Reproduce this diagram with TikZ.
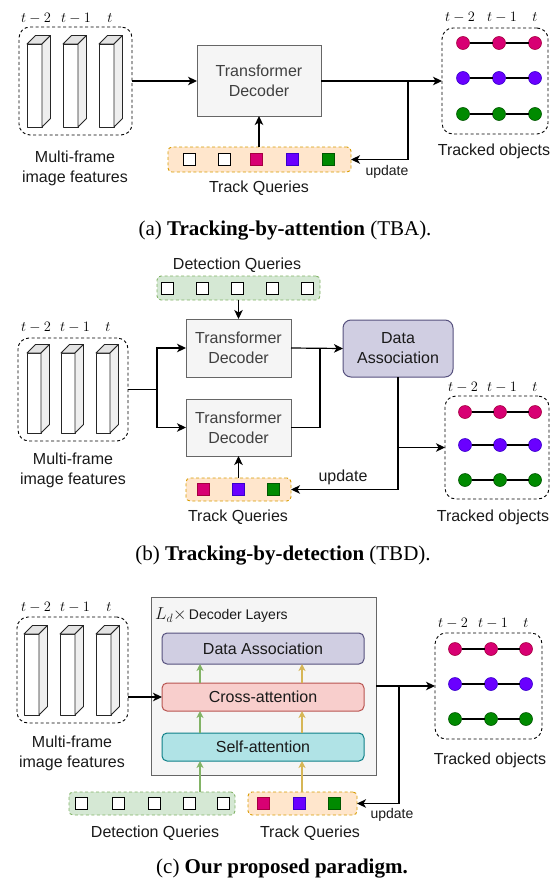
\documentclass[tikz,border=0pt]{standalone}
\usepackage{fontspec}
\setmainfont{Liberation Sans}
\newfontfamily\capfont{Liberation Serif}
\usetikzlibrary{arrows.meta}
\definecolor{magF}{HTML}{D80073}\definecolor{magD}{HTML}{A50040}
\definecolor{purF}{HTML}{6A00FF}\definecolor{purD}{HTML}{3700CC}
\definecolor{grnF}{HTML}{008A00}\definecolor{grnD}{HTML}{005700}
\definecolor{tqF}{HTML}{FFE6CC}\definecolor{tqD}{HTML}{D79B00}
\definecolor{dqF}{HTML}{D5E8D4}\definecolor{dqD}{HTML}{82B366}
\definecolor{decF}{HTML}{F5F5F5}\definecolor{decD}{HTML}{666666}
\definecolor{daF}{HTML}{D0CEE2}\definecolor{daD}{HTML}{56517E}
\definecolor{caF}{HTML}{F8CECC}\definecolor{caD}{HTML}{B85450}
\definecolor{saF}{HTML}{B0E3E6}\definecolor{saD}{HTML}{0E8088}
\definecolor{yelD}{HTML}{D6B656}
\definecolor{cubeTop}{HTML}{E3E3E3}\definecolor{cubeSide}{HTML}{EFEFEF}
\definecolor{txt}{HTML}{1A1A1A}
\newcommand\mycuboid[4]{%
  \draw[cubeline, fill=white] (#1,#2) rectangle ++(#3,#4);
  \draw[cubeline, fill=cubeTop] (#1,#2) -- ++(8.5,-8.5) -- ++(#3,0) -- ++(-8.5,8.5) -- cycle;
  \draw[cubeline, fill=cubeSide] (#1+#3,#2) -- ++(8.5,-8.5) -- ++(0,#4) -- ++(-8.5,8.5) -- cycle;}
\begin{document}
\begin{tikzpicture}[x=1pt,y=-1pt,
  every node/.style={inner sep=0pt, outer sep=0pt},
  lbl/.style={font=\fontsize{16}{20}\selectfont, align=center, text=txt},
  upd/.style={font=\fontsize{14}{16}\selectfont, text=txt},
  tl/.style={font=\fontsize{15}{16}\selectfont},
  captext/.style={font=\capfont\fontsize{21}{24}\selectfont},
  cubeline/.style={draw=black!85, line width=0.9pt, line join=round},
  dashbox/.style={draw=black, line width=0.9pt, dash pattern=on 3pt off 2.5pt, rounded corners=11pt},
  decbox/.style={draw=decD, fill=decF, line width=1pt, font=\fontsize{16}{20}\selectfont, align=center, text=black!75},
  dabox/.style={draw=daD, fill=daF, line width=1pt, rounded corners=8pt, font=\fontsize{16}{20}\selectfont, align=center, text=txt},
  tqbox/.style={draw=tqD, fill=tqF, line width=0.9pt, dash pattern=on 3pt off 2.5pt, rounded corners=4pt},
  dqbox/.style={draw=dqD, fill=dqF, line width=0.9pt, dash pattern=on 3pt off 2.5pt, rounded corners=4pt},
  sqW/.style={draw=black, fill=white, line width=0.9pt, minimum size=12pt},
  sqM/.style={draw=magD, fill=magF, line width=0.6pt, minimum size=12pt},
  sqP/.style={draw=purD, fill=purF, line width=0.6pt, minimum size=12pt},
  sqG/.style={draw=grnD, fill=grnF, line width=0.6pt, minimum size=12pt},
  dotM/.style={circle, draw=magD, fill=magF, line width=0.6pt, minimum size=13pt},
  dotP/.style={circle, draw=purD, fill=purF, line width=0.6pt, minimum size=13pt},
  dotG/.style={circle, draw=grnD, fill=grnF, line width=0.6pt, minimum size=13pt},
  trk/.style={line width=1.4pt, black},
  plainln/.style={line width=1.2pt, black},
  conn/.style={line width=1.2pt, black, -{Stealth[length=9pt,width=8.5pt,inset=2.5pt]}},
  garr/.style={line width=1.2pt, dqD, -{Stealth[length=7pt,width=7pt,inset=2pt]}},
  yarr/.style={line width=1.2pt, yelD, -{Stealth[length=7pt,width=7pt,inset=2pt]}},
]
\useasboundingbox (0,0) rectangle (550,883);

%% ================= (a) =================
\node[dashbox, minimum width=113pt, minimum height=108pt] (fa) at (75.5,81) {};
\mycuboid{27}{44}{15}{83}\mycuboid{63}{44}{15}{83}\mycuboid{99}{44}{15}{83}
\node[tl] (fat1) at (36,18) {$t-2$};
\node[tl] (fat2) at (76,18) {$t-1$};
\node[tl] (fat3) at (110,18) {$t$};
\node[lbl] (falbl) at (75,168) {Multi-frame\\image features};
\node[decbox, minimum width=124pt, minimum height=70pt] (da) at (259,81) {Transformer\\Decoder};
\node[tqbox, minimum width=183pt, minimum height=25pt] (tqa) at (259.5,159.5) {};
\node[sqW] (tqa1) at (189,159.5) {};
\node[sqW] (tqa2) at (224,159.5) {};
\node[sqM] (tqa3) at (256,159.5) {};
\node[sqP] (tqa4) at (292,159.5) {};
\node[sqG] (tqa5) at (328,159.5) {};
\node[lbl] (tqalbl) at (259,188) {Track Queries};
\node[dashbox, minimum width=106pt, minimum height=106pt] (toa) at (495,81) {};
\node[tl] (tat1) at (460,17) {$t-2$};
\node[tl] (tat2) at (502,17) {$t-1$};
\node[tl] (tat3) at (535,17) {$t$};
\node[dotM] (a11) at (463,43) {};\node[dotM] (a12) at (499,43) {};\node[dotM] (a13) at (535,43) {};
\node[dotP] (a21) at (463,78) {};\node[dotP] (a22) at (499,78) {};\node[dotP] (a23) at (535,78) {};
\node[dotG] (a31) at (463,114) {};\node[dotG] (a32) at (499,114) {};\node[dotG] (a33) at (535,114) {};
\draw[trk] (a11) -- (a12) -- (a13);
\draw[trk] (a21) -- (a22) -- (a23);
\draw[trk] (a31) -- (a32) -- (a33);
\node[lbl] (toalbl) at (494,151) {Tracked objects};
\draw[conn] (fa.east) -- (da.west);
\draw[conn] (da.south |- tqa.north) -- (da.south);
\draw[conn] (da.east) -- (toa.west);
\coordinate (ja) at (408,81);
\draw[conn] (ja) |- (tqa.east);
\node[upd] (updA) at (387,172) {update};
\node[captext] (capA) at (285,231) {(a) \textbf{Tracking-by-attention} (TBA).};

%% ================= (b) =================
\node[lbl] (dqblbl) at (237,265) {Detection Queries};
\node[dqbox, minimum width=163pt, minimum height=24pt] (dqb) at (238.5,288) {};
\node[sqW] (dqb1) at (167,288) {};
\node[sqW] (dqb2) at (202,288) {};
\node[sqW] (dqb3) at (237,288) {};
\node[sqW] (dqb4) at (272,288) {};
\node[sqW] (dqb5) at (307,288) {};
\node[decbox, minimum width=105pt, minimum height=58pt] (db1) at (238.5,348) {Transformer\\Decoder};
\node[decbox, minimum width=105pt, minimum height=57pt] (db2) at (238.5,427.5) {Transformer\\Decoder};
\node[dashbox, minimum width=110pt, minimum height=103pt] (fb) at (73,389.5) {};
\mycuboid{27}{353}{14}{80}\mycuboid{61}{353}{14}{80}\mycuboid{96}{353}{14}{80}
\node[tl] (fbt1) at (36,327) {$t-2$};
\node[tl] (fbt2) at (75,327) {$t-1$};
\node[tl] (fbt3) at (108,327) {$t$};
\node[lbl] (fblbl) at (73,470) {Multi-frame\\image features};
\node[tqbox, minimum width=105pt, minimum height=23pt] (tqb) at (238.5,489.5) {};
\node[sqM] (tqb1) at (203,489.5) {};
\node[sqP] (tqb2) at (238,489.5) {};
\node[sqG] (tqb3) at (273,489.5) {};
\node[lbl] (tqblbl) at (238,517) {Track Queries};
\node[dabox, minimum width=110pt, minimum height=57pt] (dab) at (398,348.5) {Data\\Association};
\node[dashbox, minimum width=104pt, minimum height=103pt] (tob) at (497,447.5) {};
\node[tl] (tbt1) at (463,387) {$t-2$};
\node[tl] (tbt2) at (502,387) {$t-1$};
\node[tl] (tbt3) at (535,387) {$t$};
\node[dotM] (b11) at (465,412) {};\node[dotM] (b12) at (500,412) {};\node[dotM] (b13) at (535,412) {};
\node[dotP] (b21) at (465,445) {};\node[dotP] (b22) at (500,445) {};\node[dotP] (b23) at (535,445) {};
\node[dotG] (b31) at (465,480) {};\node[dotG] (b32) at (500,480) {};\node[dotG] (b33) at (535,480) {};
\draw[trk] (b11) -- (b12) -- (b13);
\draw[trk] (b21) -- (b22) -- (b23);
\draw[trk] (b31) -- (b32) -- (b33);
\node[lbl] (toblbl) at (493,517) {Tracked objects};
\draw[conn] (dqb.south) -- (db1.north);
\coordinate (sb) at (157,389.5);
\draw[plainln] (fb.east) -- (sb);
\draw[conn] (sb) |- (db1.west);
\draw[conn] (sb) |- (db2.west);
\draw[conn] (db1.east) -- (dab.west);
\coordinate (jb) at (320,348);
\draw[plainln] (db2.east) -| (jb);
\draw[conn] (tqb.north) -- (db2.south);
\draw[conn] (dab.south) |- (tqb.east);
\draw[conn] (dab.south |- tob.west) -- (tob.west);
\node[upd, font=\fontsize{16}{18}\selectfont] (updB) at (343,477) {update};
\node[captext] (capB) at (283,556) {(b) \textbf{Tracking-by-detection} (TBD).};

%% ================= (c) =================
\node[dashbox, minimum width=111pt, minimum height=106pt] (fc) at (72.5,670) {};
\mycuboid{24}{634}{15}{81}\mycuboid{60}{634}{15}{81}\mycuboid{96}{634}{15}{81}
\node[tl] (fct1) at (36,607) {$t-2$};
\node[tl] (fct2) at (75,607) {$t-1$};
\node[tl] (fct3) at (109,607) {$t$};
\node[lbl] (fclbl) at (72,753) {Multi-frame\\image features};
\node[draw=decD, fill=decF, line width=1pt, minimum width=225pt, minimum height=178pt] (bigc) at (263.5,686) {};
\node[anchor=west, text=txt] (laylbl) at (155,615) {\fontsize{17}{17}\selectfont$L_d{\times}$\fontsize{14}{15}\selectfont\,Decoder Layers};
\node[dabox, rounded corners=5pt, minimum width=202pt, minimum height=31pt] (dac) at (263,648.5) {Data Association};
\node[dabox, draw=caD, fill=caF, rounded corners=5pt, minimum width=202pt, minimum height=28pt] (cac) at (263,697) {Cross-attention};
\node[dabox, draw=saD, fill=saF, rounded corners=5pt, minimum width=202pt, minimum height=28pt] (sac) at (263,747) {Self-attention};
\node[dqbox, minimum width=166pt, minimum height=23pt] (dqc) at (152,803.5) {};
\node[sqW] (dqc1) at (81,803.5) {};
\node[sqW] (dqc2) at (118,803.5) {};
\node[sqW] (dqc3) at (154,803.5) {};
\node[sqW] (dqc4) at (189,803.5) {};
\node[sqW] (dqc5) at (223,803.5) {};
\node[tqbox, minimum width=109pt, minimum height=23pt] (tqc) at (302.5,803.5) {};
\node[sqM] (tqc1) at (263,803.5) {};
\node[sqP] (tqc2) at (299,803.5) {};
\node[sqG] (tqc3) at (334,803.5) {};
\node[lbl] (dqclbl) at (155,833) {Detection Queries};
\node[lbl] (tqclbl) at (310,833) {Track Queries};
\node[dashbox, minimum width=107pt, minimum height=106pt] (toc) at (488.5,686) {};
\node[tl] (tct1) at (453,623) {$t-2$};
\node[tl] (tct2) at (493,623) {$t-1$};
\node[tl] (tct3) at (526,623) {$t$};
\node[dotM] (c11) at (455,649) {};\node[dotM] (c12) at (491,649) {};\node[dotM] (c13) at (526,649) {};
\node[dotP] (c21) at (455,684) {};\node[dotP] (c22) at (491,684) {};\node[dotP] (c23) at (526,684) {};
\node[dotG] (c31) at (455,719) {};\node[dotG] (c32) at (491,719) {};\node[dotG] (c33) at (526,719) {};
\draw[trk] (c11) -- (c12) -- (c13);
\draw[trk] (c21) -- (c22) -- (c23);
\draw[trk] (c31) -- (c32) -- (c33);
\node[lbl] (toclbl) at (490,760) {Tracked objects};
\draw[conn] (fc.east |- cac.west) -- (cac.west);
\coordinate (gx) at (200,0);
\coordinate (yx) at (302,0);
\draw[garr] (gx |- dqc.north) -- (gx |- sac.south);
\draw[garr] (gx |- sac.north) -- (gx |- cac.south);
\draw[garr] (gx |- cac.north) -- (gx |- dac.south);
\draw[yarr] (yx |- tqc.north) -- (yx |- sac.south);
\draw[yarr] (yx |- sac.north) -- (yx |- cac.south);
\draw[yarr] (yx |- cac.north) -- (yx |- dac.south);
\draw[conn] (bigc.east) -- (toc.west);
\coordinate (jc) at (399,686);
\draw[conn] (jc) |- (tqc.east);
\node[upd] (updC) at (392,815) {update};
\node[captext] (capC) at (282,869) {(c) \textbf{Our proposed paradigm.}};
\end{tikzpicture}
\end{document}
